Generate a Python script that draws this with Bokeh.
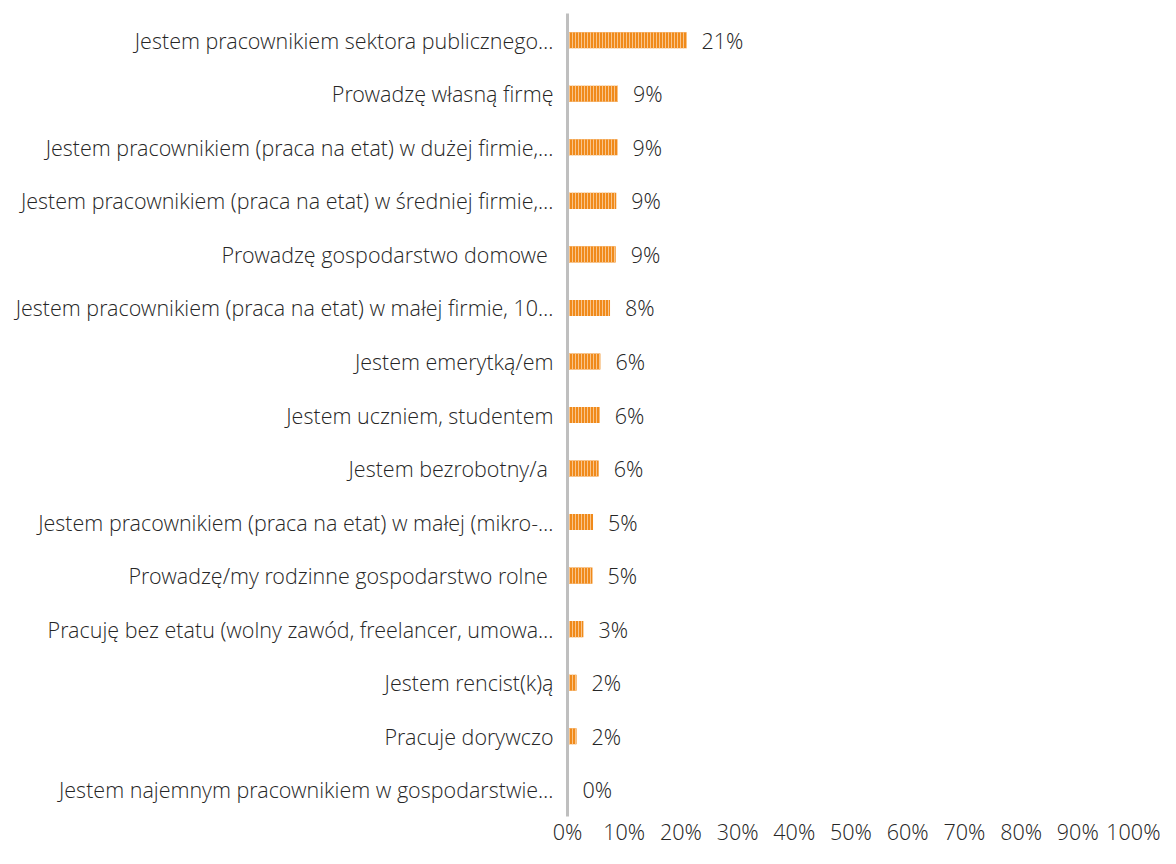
from bokeh.plotting import figure
from bokeh.models import ColumnDataSource, FactorRange, Range1d, FixedTicker, CustomJSTickFormatter
from bokeh.embed import file_html
from bokeh.resources import INLINE
from bokeh.core.properties import value

categories = [
    "Jestem pracownikiem sektora publicznego…",
    "Prowadzę własną firmę",
    "Jestem pracownikiem (praca na etat) w dużej firmie,…",
    "Jestem pracownikiem (praca na etat) w średniej firmie,…",
    "Prowadzę gospodarstwo domowe ",
    "Jestem pracownikiem (praca na etat) w małej firmie, 10…",
    "Jestem emerytką/em",
    "Jestem uczniem, studentem",
    "Jestem bezrobotny/a ",
    "Jestem pracownikiem (praca na etat) w małej (mikro-…",
    "Prowadzę/my rodzinne gospodarstwo rolne ",
    "Pracuję bez etatu (wolny zawód, freelancer, umowa…",
    "Jestem rencist(k)ą",
    "Pracuje dorywczo",
    "Jestem najemnym pracownikiem w gospodarstwie…",
]
values = [21.0, 8.9, 8.8, 8.6, 8.5, 7.5, 5.8, 5.7, 5.5, 4.5, 4.4, 2.8, 1.6, 1.6, 0.0]
value_labels = ["21%", "9%", "9%", "9%", "9%", "8%", "6%", "6%", "6%", "5%", "5%", "3%", "2%", "2%", "0%"]
x_ticks = [0, 10, 20, 30, 40, 50, 60, 70, 80, 90, 100]

FONT = "Open Sans Light"
FSIZE = "21.5px"
TEXT_COLOR = "#262626"

src = ColumnDataSource(dict(cat=categories, val=values, lab=value_labels))

p = figure(
    width=1160, height=848,
    y_range=FactorRange(factors=list(reversed(categories)), range_padding=0),
    x_range=Range1d(0, 100),
    output_backend="svg", toolbar_location=None,
    min_border_left=567, min_border_right=26, min_border_top=13, min_border_bottom=29,
)
p.outline_line_color = None
p.xgrid.grid_line_color = None
p.ygrid.grid_line_color = None

p.hbar(y="cat", right="val", left=0, height=0.30, source=src,
       fill_color="#F08A1A", line_color=None,
       hatch_pattern="vertical_line", hatch_color="#F9C48A", hatch_scale=3, hatch_weight=1)

p.text(x="val", y="cat", text="lab", source=src, x_offset=15,
       text_align="left", text_baseline="middle",
       text_font=value(FONT), text_font_size=FSIZE, text_color=TEXT_COLOR)

# y axis
ya = p.yaxis[0]
ya.axis_line_color = "#BFBFBF"
ya.axis_line_width = 3
ya.major_tick_line_color = None
ya.minor_tick_line_color = None
ya.major_label_standoff = 8
ya.major_label_text_font = FONT
ya.major_label_text_font_size = FSIZE
ya.major_label_text_color = TEXT_COLOR

# x axis
xa = p.xaxis[0]
xa.axis_line_color = None
xa.major_tick_line_color = None
xa.minor_tick_line_color = None
xa.major_tick_out = 0
xa.ticker = FixedTicker(ticks=x_ticks)
xa.formatter = CustomJSTickFormatter(code="return tick + '%';")
xa.major_label_standoff = 0
xa.major_label_text_font = FONT
xa.major_label_text_font_size = FSIZE
xa.major_label_text_color = TEXT_COLOR

open("out.html", "w").write(file_html(p, INLINE))
